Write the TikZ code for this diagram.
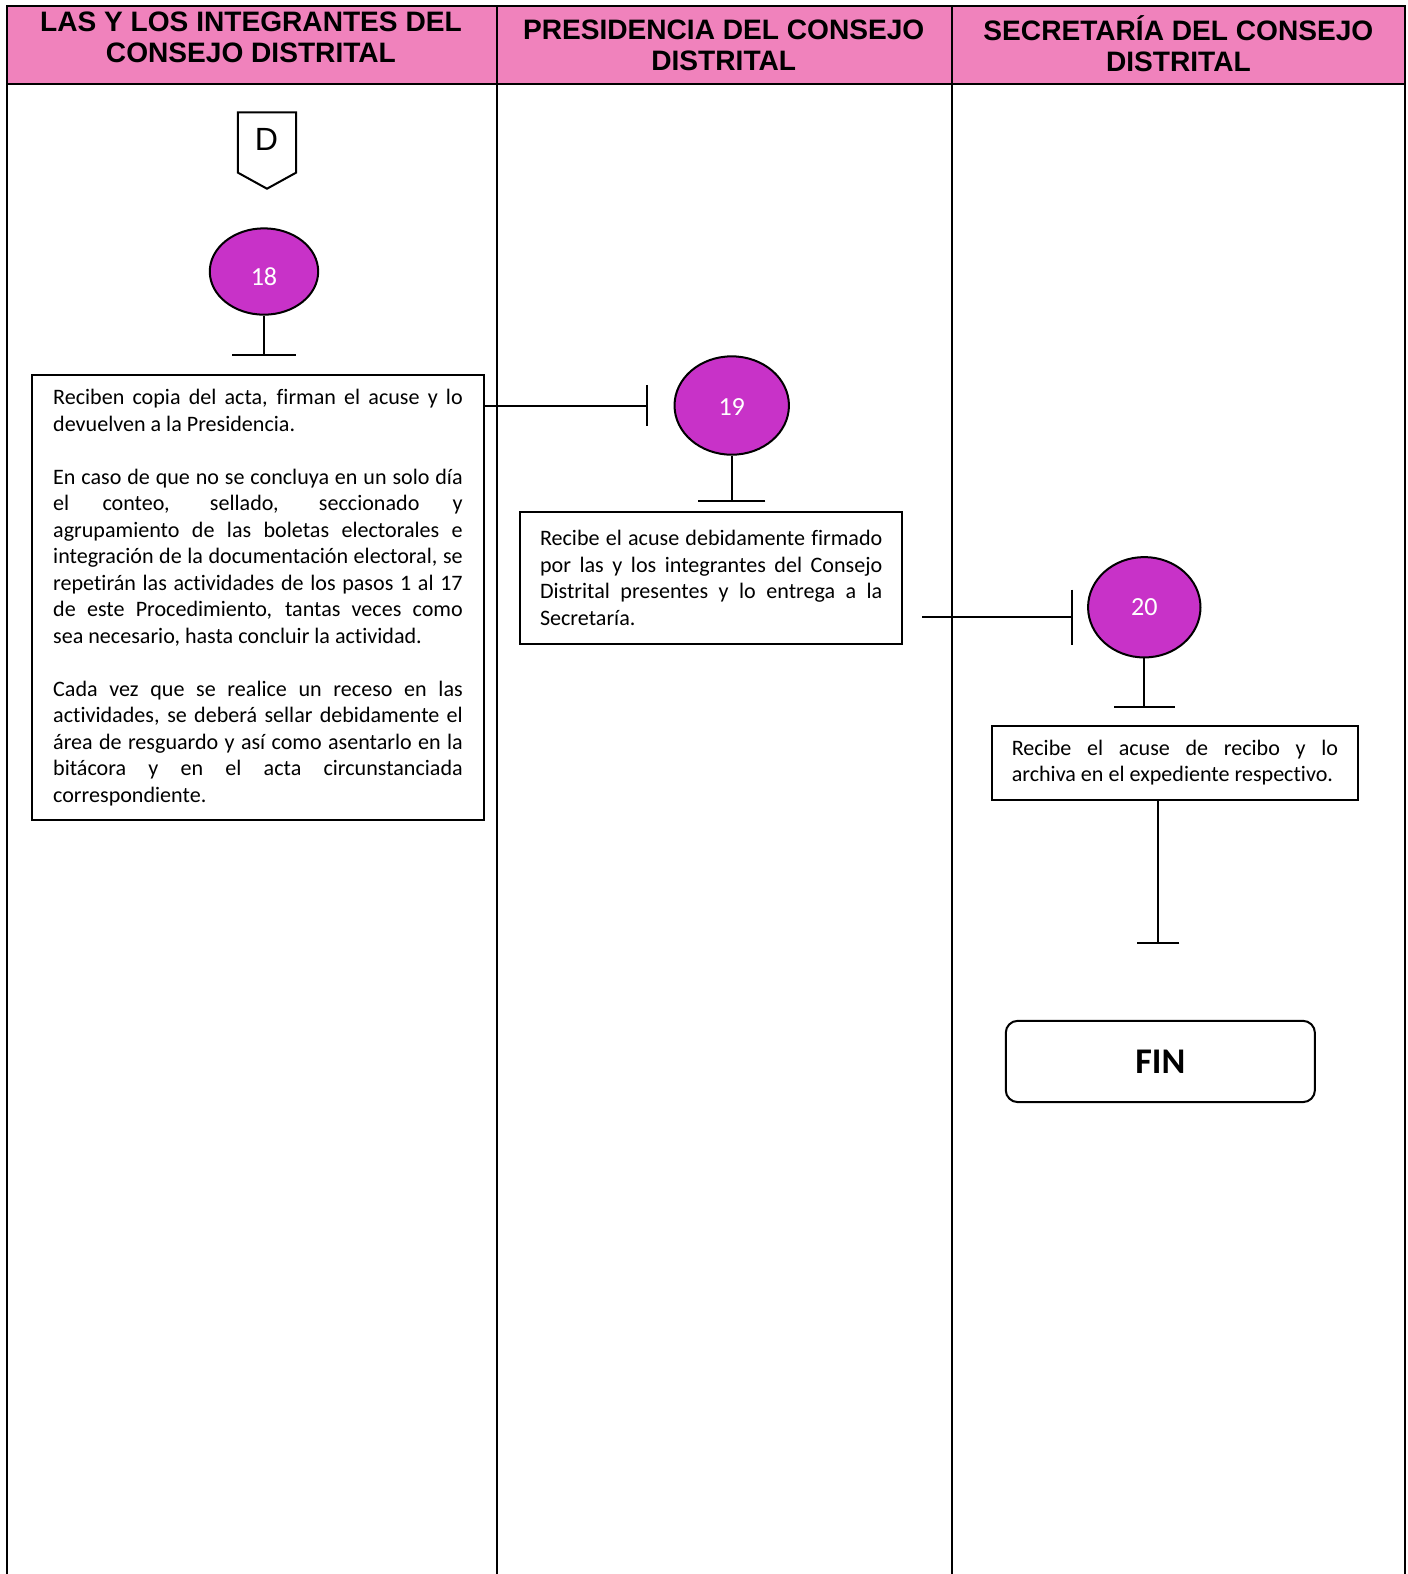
\documentclass[tikz,border=0pt]{standalone}
\usepackage{fontspec}
\setmainfont{Carlito}[Ligatures=NoCommon]
\newfontfamily\headfont{Liberation Sans}
\usetikzlibrary{shapes.geometric,arrows.meta}
\definecolor{headpink}{RGB}{240,130,188}
\definecolor{stepmagenta}{RGB}{200,50,200}
\tikzset{
  lanehead/.style={font=\headfont\bfseries\fontsize{14bp}{15.5bp}\selectfont, align=center, inner sep=0pt},
  stepcircle/.style={ellipse, draw, fill=stepmagenta, inner sep=0pt, text=white, font=\fontsize{13bp}{15bp}\selectfont},
  task/.style={draw, rectangle, align=justify, inner ysep=0pt,
    font=\fontsize{11bp}{13.2bp}\selectfont\setlength{\parindent}{0pt}},
  tee/.style={-{Bar[width=#1]}}
}
\begin{document}
\begin{tikzpicture}[x=0.5bp, y=-0.5bp, line width=1bp]
  \useasboundingbox (0,0) rectangle (1402.74,1568.12);
  \fill[headpink] (7,6) rectangle (1400,84);
  \draw (7,1574) -- (7,6) -- (1400,6) -- (1400,1574);
  \draw (7,84) -- (1400,84);
  \draw (495,6) -- (495,1574);
  \draw (948,6) -- (948,1574);
  \node[lanehead] (h1) at (250,37.5) {LAS Y LOS INTEGRANTES DEL\\CONSEJO DISTRITAL};
  \node[lanehead] (h2) at (721,45.5) {PRESIDENCIA DEL CONSEJO\\DISTRITAL};
  \node[lanehead] (h3) at (1174,43.5) {SECRETARÍA DEL CONSEJO\\DISTRITAL};

  \draw (237,112) -- (295,112) -- (295,172) -- (266,188) -- (237,172) -- cycle;
  \node[font=\headfont\fontsize{16bp}{18bp}\selectfont] (D) at (265.5,139) {D};

  \node[stepcircle, minimum width=54bp, minimum height=43bp] (c18) at (263,270.5) {\raisebox{-2.5bp}[\height][\depth]{18}};
  \node[stepcircle, minimum width=57bp, minimum height=49bp] (c19) at (729,404) {\raisebox{-1bp}[\height][\depth]{19}};
  \node[stepcircle, minimum width=56bp, minimum height=50bp] (c20) at (1140,605) {20};

  \node[task, text width=204bp, inner xsep=10.5bp, minimum height=221.5bp] (box18) at (257,595.5)
    {Reciben copia del acta, firman el acuse y lo\linebreak devuelven a la Presidencia.\par\vskip13.2bp
     En caso de que no se concluya en un solo día\linebreak el conteo, sellado, seccionado y\linebreak
     agrupamiento de las boletas electorales e\linebreak integración de la documentación electoral, se\linebreak
     repetirán las actividades de los pasos 1 al 17\linebreak de este Procedimiento, tantas veces como\linebreak
     sea necesario, hasta concluir la actividad.\par\vskip13.2bp
     Cada vez que se realice un receso en las\linebreak actividades, se deberá sellar debidamente el\linebreak
     área de resguardo y así como asentarlo en la\linebreak bitácora y en el acta circunstanciada\linebreak
     correspondiente.};
  \node[task, text width=170.5bp, inner xsep=10bp, minimum height=66bp] (box19) at (708.5,576)
    {Recibe el acuse debidamente firmado\linebreak por las y los integrantes del Consejo\linebreak
     Distrital presentes y lo entrega a la\linebreak Secretaría.};
  \node[task, text width=162.5bp, inner xsep=10bp, minimum height=37bp] (box20) at (1170.5,760)
    {Recibe el acuse de recibo y lo\linebreak archiva en el expediente respectivo.};
  \node[draw, rounded corners=6bp, minimum width=154bp, minimum height=40.5bp,
    font=\bfseries\fontsize{18bp}{20bp}\selectfont] (fin) at (1156,1057.5) {FIN};

  \coordinate (t18) at (263,355);
  \coordinate (t19) at (646,404);
  \coordinate (b19) at (729,500);
  \coordinate (s20) at (919,615);
  \coordinate (t20) at (1069,615);
  \coordinate (b20) at (1140,705);
  \coordinate (tfin) at (1154,940);

  \draw[tee=31.5bp] (c18) -- (t18);
  \draw[tee=20.5bp] (box18.east |- t19) -- (t19);
  \draw[tee=33.5bp] (c19) -- (b19);
  \draw[tee=27.5bp] (s20) -- (t20);
  \draw[tee=30.5bp] (c20) -- (b20);
  \draw[tee=21bp] (box20.south -| tfin) -- (tfin);
\end{tikzpicture}
\end{document}
